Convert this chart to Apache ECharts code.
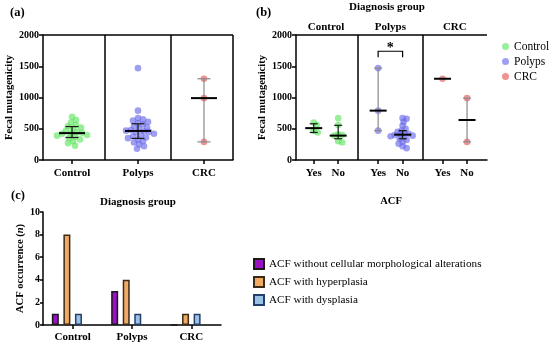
<!DOCTYPE html>
<html><head><meta charset="utf-8">
<script src="https://cdn.jsdelivr.net/npm/echarts@6/dist/echarts.min.js"></script>
<style>html,body{margin:0;padding:0;background:#fff}#c{width:550px;height:348px}</style>
</head><body><div id="c"></div>
<script>
// ---------------- data ----------------
const groups = ['Control', 'Polyps', 'CRC'];
const subLabels = ['Yes', 'No'];
const mutTicks = [0, 500, 1000, 1500, 2000];

// (a) fecal mutagenicity per diagnosis group
const aControl = [690, 640, 600, 560, 540, 520, 500, 470, 450, 435, 425, 420, 400, 390, 370, 350, 330, 300, 270, 230];
const aPolyps = [1470, 790, 670, 650, 630, 610, 590, 570, 540, 520, 500, 480, 470, 460, 450, 440, 420, 400, 380, 360, 350, 330, 300, 280, 250, 220, 180];
const aCRC = [1300, 990, 290];
const aMedian = [430, 465, 990];
const aLow = [360, 345, 290];
const aHigh = [535, 580, 1300];

// (b) fecal mutagenicity per diagnosis group, split by ACF (Yes / No)
const bControlYes = [600, 560, 470, 440];
const bControlNo = [670, 560, 410, 400, 390, 300, 280];
const bPolypsYes = [1470, 790, 470];
const bPolypsNo = [670, 660, 610, 550, 500, 470, 450, 430, 420, 410, 400, 390, 380, 370, 340, 320, 290, 260, 220, 190];
const bCRCYes = [1300];
const bCRCNo = [990, 290];
const bMedian = [[510, 390], [790, 405], [1300, 640]];
const bLow = [[440, 340], [470, 340], [null, 290]];
const bHigh = [[580, 555], [1470, 470], [null, 990]];
const sigLevel = 1740;
const sigText = '*';

// (c) ACF occurrence
const acfTypes = ['ACF without cellular morphological alterations', 'ACF with hyperplasia', 'ACF with dysplasia'];
const acfWithout = [1, 3, 0];
const acfHyper = [8, 4, 1];
const acfDysplasia = [1, 1, 1];

// ---------------- helpers ----------------
const FONT = 'Liberation Serif';
const colGreen = 'rgba(95,228,95,0.8)';
const colBlue = 'rgba(105,105,235,0.8)';
const colRed = 'rgba(232,85,85,0.8)';

// deterministic beeswarm layout computed from the values
function swarm(values, center, pxPerX, unitsPerPxY, minDist) {
  const placed = [];
  const res = new Array(values.length);
  const order = values.map((v, i) => i).sort((a, b) => values[b] - values[a]);
  for (const i of order) {
    const y = values[i] / unitsPerPxY;
    let x = 0;
    for (let step = 0; step < 100; step++) {
      const off = step === 0 ? 0 : Math.ceil(step / 2) * (step % 2 ? 1 : -1) * 1.0;
      if (placed.every(p => Math.hypot(p.x - off, p.y - y) >= minDist)) { x = off; break; }
    }
    placed.push({ x, y });
    res[i] = [center + x / pxPerX, values[i]];
  }
  return res;
}

function statsRender(medHalf, capHalf) {
  return function (params, api) {
    const x = api.value(0), med = api.value(1), lo = api.value(2), hi = api.value(3), n = api.value(4);
    const children = [];
    const barColor = n <= 3 ? '#8a8a8a' : '#1a1a1a';
    if (isFinite(lo) && isFinite(hi)) {
      const pl = api.coord([x, lo]), ph = api.coord([x, hi]);
      children.push({ type: 'line', shape: { x1: pl[0], y1: pl[1], x2: ph[0], y2: ph[1] }, style: { stroke: barColor, lineWidth: 1.2 } });
      children.push({ type: 'line', shape: { x1: pl[0] - capHalf, y1: pl[1], x2: pl[0] + capHalf, y2: pl[1] }, style: { stroke: barColor, lineWidth: 1.2 } });
      children.push({ type: 'line', shape: { x1: ph[0] - capHalf, y1: ph[1], x2: ph[0] + capHalf, y2: ph[1] }, style: { stroke: barColor, lineWidth: 1.2 } });
    }
    const pm = api.coord([x, med]);
    children.push({ type: 'line', shape: { x1: pm[0] - medHalf, y1: pm[1], x2: pm[0] + medHalf, y2: pm[1] }, style: { stroke: '#000', lineWidth: 2 } });
    return { type: 'group', children };
  };
}

// ---------------- layout of panel (a) / (b) ----------------
const A_PX = 66, B_PX = 64.4, Y_UNITS = 16;
const bOff = 0.19;
const aSeriesData = [aControl, aPolyps, aCRC].map((vals, g) => swarm(vals, g, A_PX, Y_UNITS, 4.8));
const bSets = [[bControlYes, bControlNo], [bPolypsYes, bPolypsNo], [bCRCYes, bCRCNo]];
const bSeriesData = bSets.map((pair, g) =>
  swarm(pair[0], g - bOff, B_PX, Y_UNITS, 3.8).concat(swarm(pair[1], g + bOff, B_PX, Y_UNITS, 3.8)));
const aStats = groups.map((g, i) => [i, aMedian[i], aLow[i], aHigh[i], [aControl, aPolyps, aCRC][i].length]);
const bStats = [];
bSets.forEach((pair, g) => pair.forEach((vals, s) => {
  bStats.push([g + (s === 0 ? -bOff : bOff), bMedian[g][s], bLow[g][s] == null ? '-' : bLow[g][s], bHigh[g][s] == null ? '-' : bHigh[g][s], vals.length]);
}));
const bTickPos = [];
groups.forEach((g, i) => { bTickPos.push(i - bOff, i + bOff); });

const axisTxt = { fontFamily: FONT, fontWeight: 'bold', fontSize: 10, color: '#000' };
const lineBlack = { lineStyle: { color: '#000', width: 1.5 } };

function yMut(gridIndex) {
  return {
    gridIndex, type: 'value', min: 0, max: 2000, interval: 500,
    name: 'Fecal mutagenicity', nameLocation: 'middle', nameGap: 25,
    nameTextStyle: { fontFamily: FONT, fontWeight: 'bold', fontSize: 10.5, color: '#000' },
    axisLine: { show: true, onZero: false, ...lineBlack }, axisTick: { show: true, length: 4, ...lineBlack },
    axisLabel: { ...axisTxt, margin: 4, formatter: v => String(v) },
    splitLine: { show: false }
  };
}
function borderLines(xs, top) {
  const d = xs.map(x => ({ xAxis: x }));
  if (top != null) d.push({ yAxis: top });
  return { silent: true, symbol: 'none', label: { show: false }, lineStyle: { color: '#000', width: 1.5, type: 'solid' }, data: d, animation: false };
}

const series = [];
const scatterCols = [colGreen, colBlue, colRed];
groups.forEach((g, i) => {
  series.push({ name: g, type: 'scatter', xAxisIndex: 0, yAxisIndex: 0, data: aSeriesData[i], symbolSize: 6.6, itemStyle: { color: scatterCols[i] }, z: 3,
    markLine: i === 0 ? borderLines([0.5, 1.5, 2.44], 2000) : undefined });
});
groups.forEach((g, i) => {
  series.push({ name: g, type: 'scatter', xAxisIndex: 1, yAxisIndex: 1, data: bSeriesData[i], symbolSize: 6.6, itemStyle: { color: scatterCols[i] }, z: 3,
    markLine: i === 0 ? borderLines([0.5, 1.5], 2000) : undefined });
});
series.push({ type: 'custom', xAxisIndex: 0, yAxisIndex: 0, renderItem: statsRender(13, 6.5), data: aStats, z: 5, silent: true });
series.push({ type: 'custom', xAxisIndex: 1, yAxisIndex: 1, renderItem: statsRender(8.5, 4), data: bStats, z: 5, silent: true });
// significance bracket between Polyps Yes and No
series.push({ type: 'custom', xAxisIndex: 1, yAxisIndex: 1, silent: true, z: 6,
  data: [[1 - bOff, 1 + bOff, sigLevel]],
  renderItem: function (params, api) {
    const p1 = api.coord([api.value(0), api.value(2)]), p2 = api.coord([api.value(1), api.value(2)]);
    return { type: 'group', children: [
      { type: 'polyline', shape: { points: [[p1[0], p1[1] + 6], p1, p2, [p2[0], p2[1] + 6]] }, style: { stroke: '#000', lineWidth: 1.2, fill: null } },
      { type: 'text', style: { text: sigText, x: (p1[0] + p2[0]) / 2, y: p1[1] - 3, align: 'center', verticalAlign: 'middle', font: 'bold 14px ' + FONT, fill: '#000' } }
    ] };
  } });

// (c) bars
const barCols = [
  { color: '#9a12c4', borderColor: '#1a1a1a' },
  { color: '#f0aa64', borderColor: '#3a2a1a' },
  { color: '#9cc1e6', borderColor: '#24406a' }
];
[acfWithout, acfHyper, acfDysplasia].forEach((vals, k) => {
  series.push({ name: acfTypes[k], type: 'bar', xAxisIndex: 3, yAxisIndex: 2, data: vals, barWidth: 7, barGap: '65%',
    itemStyle: { ...barCols[k], borderWidth: 1.5 } });
});
// empty slot that keeps the bar groups left of the ticks, as in the original layout
series.push({ name: '', type: 'bar', xAxisIndex: 3, yAxisIndex: 2, data: [], barWidth: 7, barGap: '65%', silent: true });

const option = {
  animation: false,
  backgroundColor: '#fff',
  grid: [
    { left: 43, top: 35, width: 190, height: 125 },
    { left: 296, top: 35, width: 191, height: 125 },
    { left: 43, top: 212, width: 178, height: 113 }
  ],
  xAxis: [
    { gridIndex: 0, type: 'value', min: -0.44, max: 2.44, splitLine: { show: false },
      axisLine: { show: true, onZero: false, ...lineBlack }, axisTick: { show: true, length: 4, customValues: [0, 1, 2], ...lineBlack },
      axisLabel: { ...axisTxt, fontSize: 11, margin: 8, customValues: [0, 1, 2], formatter: v => groups[Math.round(v)] } },
    { gridIndex: 1, type: 'value', min: -0.465, max: 2.5, splitLine: { show: false },
      axisLine: { show: true, onZero: false, ...lineBlack }, axisTick: { show: true, length: 4, customValues: bTickPos, ...lineBlack },
      axisLabel: { ...axisTxt, fontSize: 11, margin: 8, customValues: bTickPos, formatter: v => subLabels[bTickPos.indexOf(v) % 2] } },
    { gridIndex: 1, type: 'value', position: 'top', min: -0.465, max: 2.5, splitLine: { show: false },
      axisLine: { show: false, onZero: false }, axisTick: { show: false },
      axisLabel: { ...axisTxt, fontSize: 11, margin: 2, customValues: [0, 1, 2], formatter: v => groups[Math.round(v)] } },
    { gridIndex: 2, type: 'category', data: groups,
      axisLine: { show: true, onZero: false, ...lineBlack }, axisTick: { show: true, alignWithLabel: true, length: 4, ...lineBlack },
      axisLabel: { ...axisTxt, fontSize: 11, margin: 7 } }
  ],
  yAxis: [
    yMut(0), yMut(1),
    { gridIndex: 2, type: 'value', min: 0, max: 10, interval: 2,
      name: '{b|ACF occurrence (}{i|n}{b|)}', nameLocation: 'middle', nameGap: 15,
      nameTextStyle: { rich: { b: { fontFamily: FONT, fontWeight: 'bold', fontSize: 10.5, color: '#000' }, i: { fontFamily: FONT, fontWeight: 'bold', fontStyle: 'italic', fontSize: 10.5, color: '#000' } } },
      axisLine: { show: true, onZero: false, ...lineBlack }, axisTick: { show: true, length: 3, ...lineBlack },
      axisLabel: { ...axisTxt, margin: 3 }, splitLine: { show: false } }
  ],
  legend: [
    { data: groups, orient: 'vertical', left: 497, top: 35, icon: 'circle', itemWidth: 7, itemHeight: 7, itemGap: 2,
      textStyle: { fontFamily: FONT, fontSize: 11.5, color: '#000', lineHeight: 13 } },
    { data: acfTypes, orient: 'vertical', left: 248, top: 253, icon: 'rect', itemWidth: 10, itemHeight: 10, itemGap: 6,
      textStyle: { fontFamily: FONT, fontSize: 11.2, color: '#000', lineHeight: 11 } }
  ],
  graphic: [
    { type: 'text', left: 10, top: 6, style: { text: '(a)', font: 'bold 12.5px ' + FONT, fill: '#000' } },
    { type: 'text', left: 256, top: 6, style: { text: '(b)', font: 'bold 12.5px ' + FONT, fill: '#000' } },
    { type: 'text', left: 11, top: 189, style: { text: '(c)', font: 'bold 12.5px ' + FONT, fill: '#000' } },
    { type: 'text', x: 387, y: 7, style: { text: 'Diagnosis group', font: 'bold 11px ' + FONT, fill: '#000', align: 'center', verticalAlign: 'middle' } },
    { type: 'text', x: 138, y: 202, style: { text: 'Diagnosis group', font: 'bold 11px ' + FONT, fill: '#000', align: 'center', verticalAlign: 'middle' } },
    { type: 'text', x: 391, y: 201, style: { text: 'ACF', font: 'bold 10.5px ' + FONT, fill: '#000', align: 'center', verticalAlign: 'middle' } }
  ],
  series
};
const chart = echarts.init(document.getElementById('c'), null, { renderer: 'canvas' });
chart.setOption(option);
</script></body></html>
